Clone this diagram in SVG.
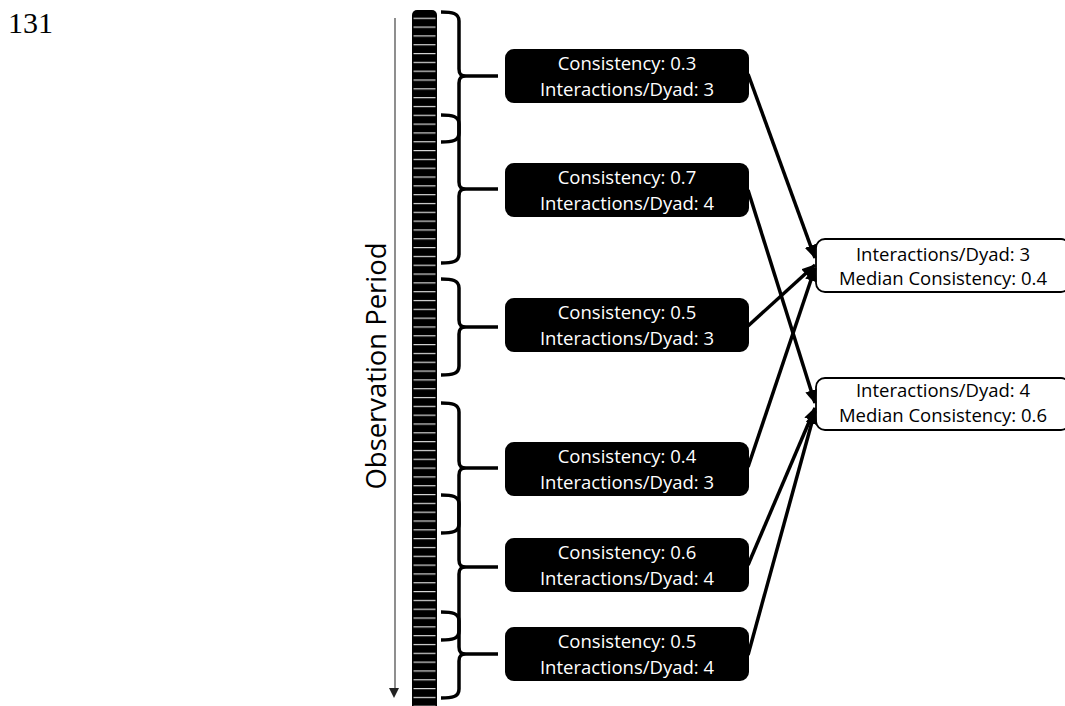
<svg xmlns="http://www.w3.org/2000/svg" width="1065" height="706" viewBox="0 0 1065 706">
<style>
.pg{font-family:"Liberation Serif","Times New Roman",serif;font-size:30px;fill:#000}
.ttl{font-family:"Open Sans","Noto Sans",sans-serif;font-size:27.4px;fill:#000}
.bx{fill:#000}
.bt{font-family:"Open Sans","Noto Sans",sans-serif;font-size:18.5px;fill:#fff;text-anchor:middle}
.wb{fill:#fff;stroke:#000;stroke-width:1.8}
.wt{font-family:"Open Sans","Noto Sans",sans-serif;font-size:18.5px;fill:#000;text-anchor:middle}
.br{fill:none;stroke:#000;stroke-width:3.5;stroke-linecap:butt}
.cn{fill:none;stroke:#000;stroke-width:3.5}
</style>
<defs>
<pattern id="stripes" x="0" y="17.7" width="100" height="8.82" patternUnits="userSpaceOnUse">
<rect x="0" y="0" width="100" height="1.2" fill="#d8d8d8"/>
</pattern>
<marker id="ah" viewBox="0 0 14 12" refX="13" refY="6" markerWidth="14" markerHeight="12" markerUnits="userSpaceOnUse" orient="auto">
<path d="M0,0 L14,6 L0,12 z" fill="#000"/>
</marker>
</defs>
<rect width="1065" height="706" fill="#fff"/>
<text class="pg" x="8" y="33">131</text>
<g id="time-axis">
<line x1="395" y1="18" x2="395" y2="690" stroke="#444" stroke-width="1.2"/>
<path d="M389,688 L399,688 L394,698 z" fill="#222"/>
<text class="ttl" transform="translate(386,366) rotate(-90)" text-anchor="middle">Observation Period</text>
</g>
<g id="timeline-bar">
<rect x="412" y="10" width="25" height="710" rx="5" fill="#000"/>
<rect x="413.5" y="14" width="22" height="700" fill="url(#stripes)"/>
</g>
<g id="brackets">
<path class="br" d="M441,12 C452,12 459,13 459,21 L459,69 C459,74 461,76 466,76 L498,76 M466,76 C461,76 459,78 459,83 L459,133 C459,141 452,142 441,142"/>
<path class="br" d="M441,115 C452,115 459,116 459,124 L459,182 C459,187 461,189 466,189 L498,189 M466,189 C461,189 459,191 459,196 L459,254 C459,262 452,263 441,263"/>
<path class="br" d="M441,279 C452,279 459,280 459,288 L459,320 C459,325 461,327 466,327 L498,327 M466,327 C461,327 459,329 459,334 L459,366 C459,374 452,375 441,375"/>
<path class="br" d="M441,403 C452,403 459,404 459,412 L459,461 C459,466 461,468 466,468 L498,468 M466,468 C461,468 459,470 459,475 L459,524 C459,532 452,533 441,533"/>
<path class="br" d="M441,495 C452,495 459,496 459,504 L459,560 C459,565 461,567 466,567 L498,567 M466,567 C461,567 459,569 459,574 L459,631 C459,639 452,640 441,640"/>
<path class="br" d="M441,612 C452,612 459,613 459,621 L459,647 C459,652 461,654 466,654 L498,654 M466,654 C461,654 459,656 459,661 L459,689 C459,697 452,698 441,698"/>
</g>
<g id="w1">
<rect class="bx" x="505" y="49" width="244" height="54" rx="9"/>
<text class="bt" x="627" y="70">Consistency: 0.3</text>
<text class="bt" x="627" y="96">Interactions/Dyad: 3</text>
</g>
<g id="w2">
<rect class="bx" x="505" y="163" width="244" height="54" rx="9"/>
<text class="bt" x="627" y="184">Consistency: 0.7</text>
<text class="bt" x="627" y="210">Interactions/Dyad: 4</text>
</g>
<g id="w3">
<rect class="bx" x="505" y="298" width="244" height="54" rx="9"/>
<text class="bt" x="627" y="319">Consistency: 0.5</text>
<text class="bt" x="627" y="345">Interactions/Dyad: 3</text>
</g>
<g id="w4">
<rect class="bx" x="505" y="442" width="244" height="54" rx="9"/>
<text class="bt" x="627" y="463">Consistency: 0.4</text>
<text class="bt" x="627" y="489">Interactions/Dyad: 3</text>
</g>
<g id="w5">
<rect class="bx" x="505" y="538" width="244" height="54" rx="9"/>
<text class="bt" x="627" y="559">Consistency: 0.6</text>
<text class="bt" x="627" y="585">Interactions/Dyad: 4</text>
</g>
<g id="w6">
<rect class="bx" x="505" y="627" width="244" height="54" rx="9"/>
<text class="bt" x="627" y="648">Consistency: 0.5</text>
<text class="bt" x="627" y="674">Interactions/Dyad: 4</text>
</g>
<g id="g3">
<rect class="wb" x="816" y="239" width="254" height="53" rx="9"/>
<text class="wt" x="943" y="261">Interactions/Dyad: 3</text>
<text class="wt" x="943" y="285">Median Consistency: 0.4</text>
</g>
<g id="g4">
<rect class="wb" x="816" y="378" width="254" height="52" rx="9"/>
<text class="wt" x="943" y="397">Interactions/Dyad: 4</text>
<text class="wt" x="943" y="422">Median Consistency: 0.6</text>
</g>
<g id="connectors">
<line class="cn" x1="748" y1="74" x2="815" y2="258" marker-end="url(#ah)"/>
<line class="cn" x1="748" y1="190" x2="815" y2="403" marker-end="url(#ah)"/>
<line class="cn" x1="748" y1="326" x2="815" y2="265" marker-end="url(#ah)"/>
<line class="cn" x1="748" y1="467" x2="815" y2="268" marker-end="url(#ah)"/>
<line class="cn" x1="748" y1="565" x2="815" y2="408" marker-end="url(#ah)"/>
<line class="cn" x1="748" y1="655" x2="815" y2="411" marker-end="url(#ah)"/>
</g>
</svg>
